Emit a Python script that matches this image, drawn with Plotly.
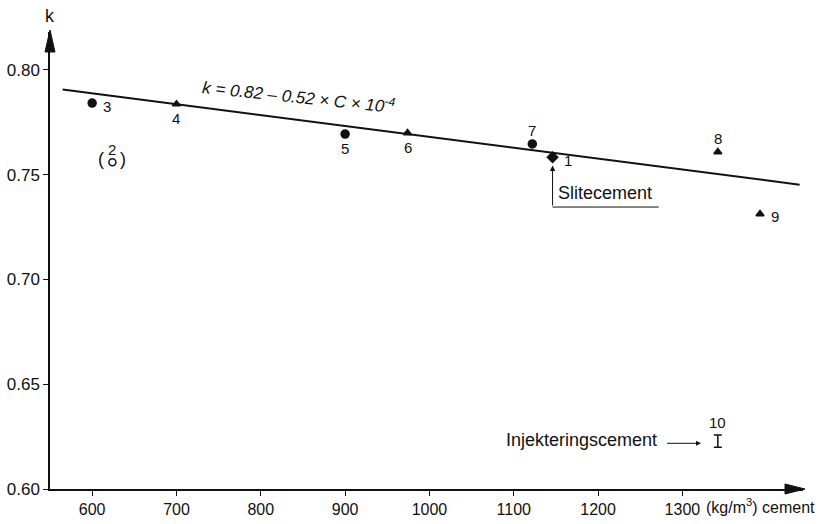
import plotly.graph_objects as go

# ---- data ----
point_ids = ["1", "2", "3", "4", "5", "6", "7", "8", "9", "10"]
cement = [1146, 624, 600, 700, 900, 974, 1122, 1342, 1392, 1342]
k_vals = [0.7583, 0.7559, 0.7841, 0.7836, 0.7693, 0.7698, 0.7646, 0.7608, 0.7312, 0.6228]
marker_kind = ["diamond", "open", "circle", "triangle", "circle", "triangle", "circle", "triangle", "triangle", "bar"]
label_pos = ["right", "above", "right", "below", "below", "below", "above", "above", "right", "above"]

# regression line k = 0.82 - 0.52 * C * 1e-4
line_c = [565, 1439]
line_k = [0.82 - 0.52 * c * 1e-4 for c in line_c]

x_ticks = [600, 700, 800, 900, 1000, 1100, 1200, 1300]
y_ticks = [0.60, 0.65, 0.70, 0.75, 0.80]
y_tick_text = ["0.60", "0.65", "0.70", "0.75", "0.80"]

FONT = "Liberation Sans, Arial, sans-serif"
BLACK = "#111111"

fig = go.Figure()

fig.add_trace(go.Scatter(x=line_c, y=line_k, mode="lines",
                         line=dict(color=BLACK, width=2), showlegend=False, hoverinfo="skip"))

symbol_map = {"circle": ("circle", 8), "diamond": ("diamond", 8), "triangle": ("triangle-up", 7),
              "open": ("circle-open", 7)}
for kind, (sym, size) in symbol_map.items():
    xs = [c for c, m in zip(cement, marker_kind) if m == kind]
    ys = [v for v, m in zip(k_vals, marker_kind) if m == kind]
    fig.add_trace(go.Scatter(x=xs, y=ys, mode="markers",
                             marker=dict(symbol=sym, size=size, color=BLACK,
                                         line=dict(color=BLACK, width=1.5)),
                             showlegend=False, hoverinfo="skip"))

# "I" shaped marker (point 10)
xs = [c for c, m in zip(cement, marker_kind) if m == "bar"]
ys = [v for v, m in zip(k_vals, marker_kind) if m == "bar"]
fig.add_trace(go.Scatter(x=xs, y=ys, mode="markers",
                         marker=dict(size=1, color=BLACK),
                         error_y=dict(type="constant", value=0.0029, width=4, thickness=1.5, color=BLACK),
                         showlegend=False, hoverinfo="skip"))

annotations = []
shift = {"right": (9, -3, "left", "middle"), "above": (0, 13, "center", "middle"),
         "below": (0, -14, "center", "middle")}
for pid, c, v, pos in zip(point_ids, cement, k_vals, label_pos):
    xs_, ys_, xa, ya = shift[pos]
    if pid == "10":
        ys_ = 19
    annotations.append(dict(x=c, y=v, xref="x", yref="y", text=pid, showarrow=False,
                            xshift=xs_, yshift=ys_, xanchor=xa, yanchor=ya,
                            font=dict(family=FONT, size=15, color=BLACK)))
    if pid == "2":
        for t, dx in (("(", -11), (")", 11)):
            annotations.append(dict(x=c, y=v, xref="x", yref="y", text=t, showarrow=False,
                                    xshift=dx, yshift=3,
                                    font=dict(family=FONT, size=18, color=BLACK)))

# equation
annotations.append(dict(x=845, y=0.7877, xref="x", yref="y",
                        text="<i>k = 0.82 – 0.52 × C × 10<sup>-4</sup></i>", showarrow=False,
                        textangle=6, font=dict(family=FONT, size=17, color=BLACK)))

# Slitecement pointer
annotations.append(dict(x=1146, y=0.7543, xref="x", yref="y", ax=1146, ay=0.7345,
                        axref="x", ayref="y", text="", showarrow=True,
                        arrowhead=2, arrowsize=1.1, arrowwidth=1, arrowcolor=BLACK))
annotations.append(dict(x=1150, y=0.7414, xref="x", yref="y", text="Slitecement",
                        showarrow=False, xanchor="left",
                        font=dict(family=FONT, size=18, color=BLACK)))

# Injekteringscement pointer
annotations.append(dict(x=1322, y=0.6218, xref="x", yref="y", ax=1280, ay=0.6218,
                        axref="x", ayref="y", text="", showarrow=True,
                        arrowhead=2, arrowsize=1, arrowwidth=1, arrowcolor=BLACK))
annotations.append(dict(x=1272, y=0.6233, xref="x", yref="y", text="Injekteringscement",
                        showarrow=False, xanchor="right",
                        font=dict(family=FONT, size=18, color=BLACK)))

# axis titles
annotations.append(dict(x=0, y=1, xref="paper", yref="paper", text="k", showarrow=False,
                        xanchor="center", yanchor="bottom", yshift=4,
                        font=dict(family=FONT, size=18, color=BLACK)))
annotations.append(dict(x=1325, y=0, xref="x", yref="paper", text="(kg/m<sup>3</sup>) cement",
                        showarrow=False, xanchor="left", yanchor="top", yshift=-5,
                        font=dict(family=FONT, size=16, color=BLACK)))

shapes = [
    # underline of Slitecement
    dict(type="line", xref="x", yref="y", x0=1146, x1=1272, y0=0.7345, y1=0.7345,
         line=dict(color=BLACK, width=1)),
    # axis arrowheads
    dict(type="path", xref="paper", yref="paper", xsizemode="pixel", ysizemode="pixel",
         xanchor=1, yanchor=0, path="M 2 0 L -18 5 L -18 -5 Z", fillcolor=BLACK,
         line=dict(color=BLACK, width=1)),
    dict(type="path", xref="paper", yref="paper", xsizemode="pixel", ysizemode="pixel",
         xanchor=0, yanchor=1, path="M 0 2 L -5 -20 L 5 -20 Z", fillcolor=BLACK,
         line=dict(color=BLACK, width=1)),
]

fig.update_layout(
    template="none",
    width=824, height=524,
    margin=dict(l=50, r=21, t=32, b=35, autoexpand=False),
    paper_bgcolor="white", plot_bgcolor="white",
    annotations=annotations, shapes=shapes,
    xaxis=dict(range=[550, 1443], tickvals=x_ticks, ticktext=[str(v) for v in x_ticks],
               automargin=False,
               showgrid=False, zeroline=False, showline=True, linecolor=BLACK, linewidth=1.5,
               ticks="outside", ticklen=5, tickcolor=BLACK,
               tickfont=dict(family=FONT, size=16, color=BLACK)),
    yaxis=dict(range=[0.60, 0.818], tickvals=y_ticks, ticktext=y_tick_text,
               automargin=False,
               showgrid=False, zeroline=False, showline=True, linecolor=BLACK, linewidth=1.5,
               ticks="outside", ticklen=5, tickcolor=BLACK,
               tickfont=dict(family=FONT, size=17, color=BLACK)),
)

fig.write_html("out.html")
